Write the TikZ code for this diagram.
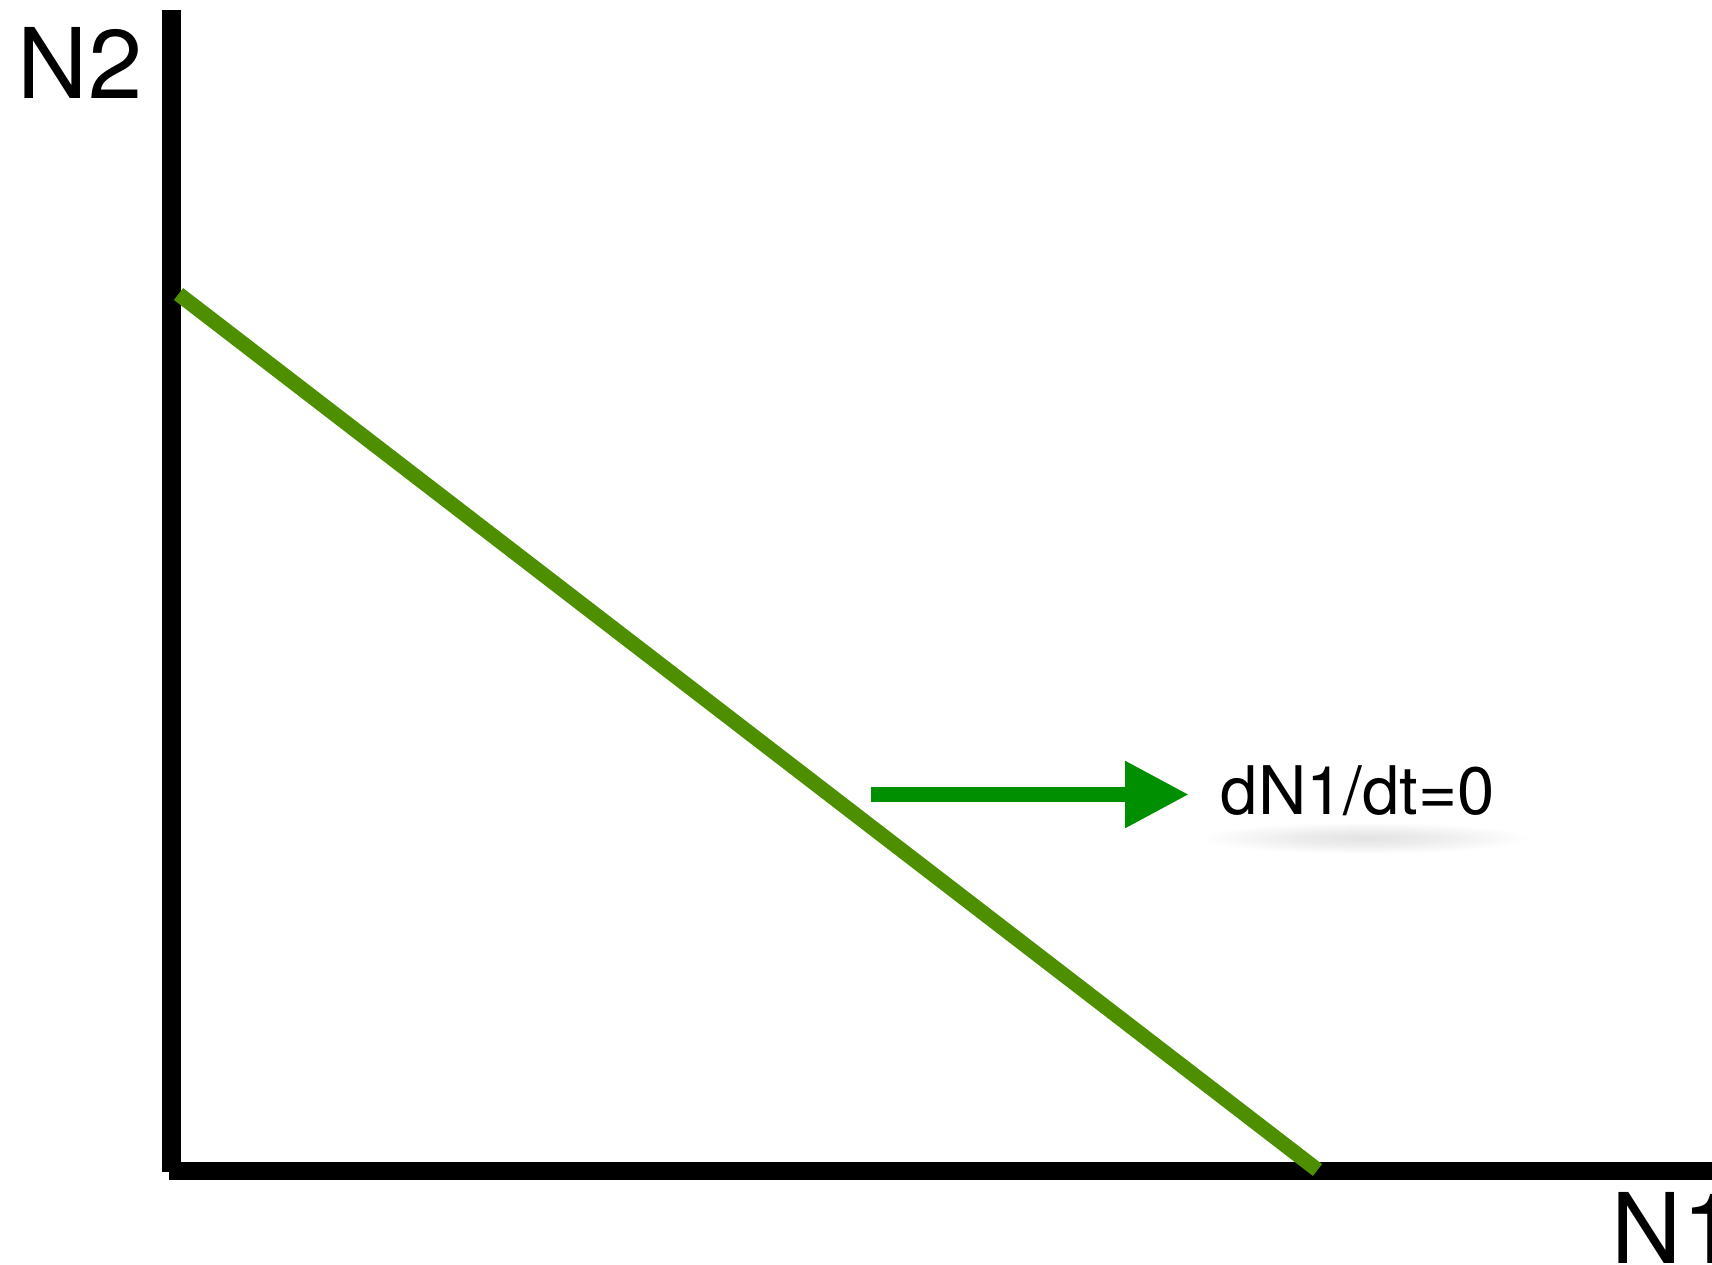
\documentclass[tikz,border=0pt]{standalone}
\usepackage{fontspec}
\setmainfont{TeX Gyre Heros}
\usetikzlibrary{arrows.meta}
\definecolor{nullcline}{RGB}{78,143,0}
\definecolor{arrowgreen}{RGB}{0,143,0}
\pgfdeclareradialshading{softshadow}{\pgfpoint{0bp}{0bp}}{color(0bp)=(black!11); color(8bp)=(black!7); color(18bp)=(white); color(50bp)=(white)}
\tikzset{
  axis/.style={line width=18.5pt, black},
  ncline/.style={line width=15pt, nullcline},
  flowarrow/.style={line width=15pt, arrowgreen, -{Triangle[length=64pt,width=63pt]}},
  biglabel/.style={anchor=base west, inner sep=0pt, font=\fontsize{97.5}{117}\selectfont},
  midlabel/.style={anchor=base west, inner sep=0pt, font=\fontsize{67}{80}\selectfont}
}
\begin{document}
\begin{tikzpicture}[x=1pt,y=-1pt]
\useasboundingbox (0,0) rectangle (1712,1264);
\clip (0,0) rectangle (1712,1264);
% faint shadow under the label
\path[shading=softshadow] (1365,838) ellipse [x radius=230, y radius=22];
% axes
\coordinate (ytop) at (171.5,10);
\coordinate (ybot) at (171.5,1172);
\coordinate (xleft) at (169,1171);
\coordinate (xright) at (1712,1171);
\draw[axis] (ytop) -- (ybot);
\draw[axis] (xleft) -- (xright);
% nullcline
\coordinate (ncA) at (178.5,294);
\coordinate (ncB) at (1317.5,1170);
\draw[ncline] (ncA) -- (ncB);
% labels
\node[biglabel] (n2) at (17.6,98) {N2};
\node[biglabel] (n1) at (1611.6,1263) {N1};
\node[midlabel] (lab) at (1220.7,814) {dN1/dt=0};
% arrow
\coordinate (arrS) at (871,794.5);
\coordinate (arrE) at (1189,794.5);
\draw[flowarrow] (arrS) -- (arrE);
\end{tikzpicture}
\end{document}
